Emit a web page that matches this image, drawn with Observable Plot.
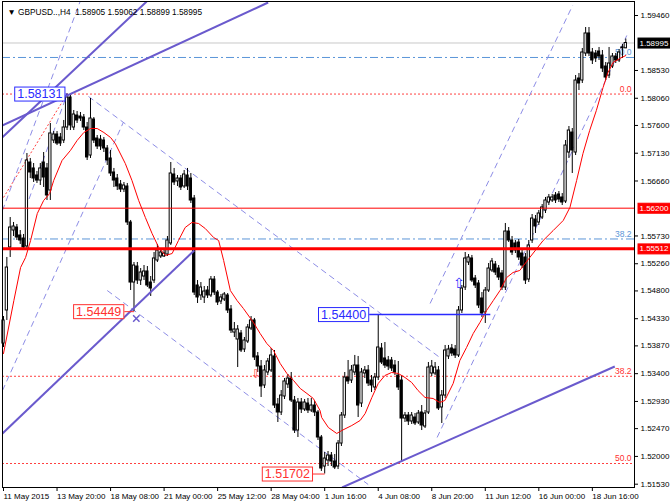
<!DOCTYPE html>
<html><head><meta charset="utf-8">
<script src="https://cdn.jsdelivr.net/npm/d3@7"></script>
<script src="https://cdn.jsdelivr.net/npm/@observablehq/plot@0.6"></script>
<style>body{margin:0;background:#fff}</style>
</head><body><div id="chart"></div>
<script>
// GBPUSD H4 candles (bar index 0..186)
const opens = [
1.53910,1.54469,1.55535,1.55822,1.55873,1.55738,1.55687,1.55552,1.56973,1.56872,
1.56753,1.56668,1.56973,1.56872,1.56499,1.57345,1.57447,1.57396,1.57345,1.57565,
1.58073,1.57565,1.57768,1.57751,1.57734,1.57565,1.57091,1.57700,1.57379,1.57362,
1.57345,1.57210,1.57041,1.56804,1.56702,1.56601,1.56516,1.56567,1.55958,1.54942,
1.55213,1.54976,1.55044,1.55129,1.54942,1.54976,1.55315,1.55383,1.55383,1.55416,
1.55603,1.56770,1.56652,1.56702,1.56567,1.56753,1.56702,1.56364,1.54892,1.54723,
1.54689,1.54807,1.54723,1.54993,1.54773,1.54621,1.54655,1.54723,1.54486,1.54096,
1.53978,1.54080,1.53809,1.53944,1.54164,1.54300,1.53691,1.53521,1.53200,1.53420,
1.53454,1.53691,1.52878,1.52743,1.53014,1.53217,1.53318,1.52946,1.52438,1.52912,
1.52794,1.52895,1.52777,1.52861,1.52743,1.52320,1.51829,1.51931,1.52015,1.51914,
1.51829,1.52218,1.52692,1.53335,1.53284,1.53420,1.53538,1.52895,1.53403,1.53454,
1.53284,1.53166,1.53335,1.53826,1.53657,1.53623,1.53623,1.53538,1.53369,1.53284,
1.52641,1.52692,1.52591,1.52658,1.52574,1.52743,1.52506,1.52743,1.53403,1.53403,
1.53454,1.52828,1.53030,1.53691,1.53826,1.53809,1.53708,1.54469,1.54858,1.55281,
1.55349,1.55010,1.54926,1.54672,1.54435,1.54807,1.55146,1.55247,1.55179,1.55095,
1.54858,1.55805,1.55653,1.55603,1.55619,1.55433,1.55366,1.54993,1.55653,1.56008,
1.55958,1.56042,1.56161,1.56296,1.56330,1.56415,1.56432,1.56381,1.56313,1.57142,
1.57480,1.57142,1.58394,1.58360,1.58817,1.59156,1.58834,1.58817,1.58851,1.58783,
1.58597,1.58445,1.58597,1.58766,1.58699,1.58920,1.58905];
const highs = [
1.54367,1.55366,1.56042,1.55958,1.55924,1.55822,1.55755,1.57125,1.57041,1.56956,
1.56821,1.56956,1.57142,1.56956,1.57633,1.57497,1.57497,1.57464,1.57684,1.58131,
1.58107,1.57853,1.57836,1.57819,1.57785,1.57650,1.58056,1.57734,1.57430,1.57430,
1.57396,1.57260,1.57176,1.56872,1.56770,1.56668,1.56635,1.56618,1.55992,1.55281,
1.55281,1.55179,1.55230,1.55213,1.55044,1.55450,1.55586,1.55518,1.55518,1.55721,
1.56973,1.56872,1.56753,1.56753,1.56838,1.56872,1.56787,1.56415,1.54976,1.54942,
1.54875,1.54875,1.55044,1.55044,1.54807,1.54740,1.54773,1.54756,1.54553,1.54266,
1.54214,1.54130,1.54012,1.54232,1.54367,1.54334,1.53758,1.53623,1.53538,1.53657,
1.53826,1.53792,1.52980,1.53115,1.53318,1.53386,1.53420,1.53014,1.52980,1.52980,
1.52963,1.52980,1.52980,1.52929,1.52777,1.52354,1.52066,1.52083,1.52066,1.52032,
1.52269,1.52743,1.53420,1.53623,1.53538,1.53708,1.53691,1.53488,1.53521,1.53538,
1.53369,1.53403,1.54400,1.53910,1.53927,1.53691,1.53674,1.53623,1.53606,1.53369,
1.52743,1.52743,1.52743,1.52726,1.52777,1.52861,1.52777,1.53589,1.53623,1.53589,
1.53521,1.53115,1.53877,1.53877,1.53894,1.53877,1.54536,1.54892,1.55450,1.55416,
1.55400,1.55061,1.54976,1.54773,1.54858,1.55264,1.55349,1.55298,1.55230,1.55146,
1.55941,1.55873,1.55721,1.55653,1.55670,1.55484,1.55433,1.55653,1.56093,1.56076,
1.56161,1.56262,1.56381,1.56432,1.56432,1.56465,1.56482,1.56448,1.57345,1.57582,
1.57548,1.58445,1.58479,1.58902,1.59257,1.59257,1.58902,1.58868,1.58919,1.58868,
1.58665,1.58919,1.58817,1.58817,1.58885,1.58970,1.59062];
const lows = [
1.53843,1.54300,1.55366,1.55721,1.55653,1.55586,1.55518,1.55518,1.56702,1.56635,
1.56618,1.56584,1.56550,1.56330,1.56330,1.57294,1.57260,1.57244,1.57294,1.57514,
1.57514,1.57514,1.57633,1.57667,1.57514,1.57007,1.57041,1.57294,1.57193,1.57176,
1.57142,1.56922,1.56736,1.56550,1.56499,1.56465,1.56465,1.55907,1.54807,1.54449,
1.54909,1.54892,1.54976,1.54858,1.54706,1.54926,1.55281,1.55349,1.55366,1.55383,
1.55569,1.56584,1.56567,1.56499,1.56533,1.56499,1.56279,1.54723,1.54587,1.54638,
1.54587,1.54672,1.54689,1.54723,1.54553,1.54570,1.54621,1.54418,1.54080,1.54012,
1.53504,1.53758,1.53758,1.53910,1.54130,1.53623,1.53420,1.52997,1.53149,1.53369,
1.53420,1.52811,1.52574,1.52692,1.52963,1.53149,1.52912,1.52388,1.52320,1.52726,
1.52760,1.52726,1.52743,1.52675,1.52269,1.51745,1.51702,1.51829,1.51829,1.51778,
1.51778,1.52168,1.52641,1.53217,1.53234,1.53369,1.52658,1.52828,1.53318,1.53183,
1.53081,1.53115,1.53284,1.53555,1.53488,1.53454,1.53437,1.53369,1.53115,1.51897,
1.52574,1.52523,1.52540,1.52523,1.52540,1.52438,1.52472,1.52709,1.53352,1.53369,
1.52777,1.52557,1.52980,1.53640,1.53691,1.53657,1.53674,1.54418,1.54807,1.55230,
1.54942,1.54841,1.54503,1.54350,1.54249,1.54773,1.55112,1.55061,1.54976,1.54807,
1.54807,1.55619,1.55400,1.55433,1.55315,1.55179,1.54909,1.54942,1.55603,1.55772,
1.55907,1.56008,1.56110,1.56245,1.56296,1.56279,1.56296,1.56245,1.56279,1.57041,
1.56787,1.57091,1.58191,1.58310,1.58766,1.58766,1.58631,1.58665,1.58699,1.58496,
1.58360,1.58394,1.58563,1.58648,1.58665,1.58733,1.58899];
const closes = [
1.54300,1.55196,1.55873,1.55890,1.55704,1.55653,1.55535,1.57007,1.56804,1.56702,
1.56668,1.56872,1.56719,1.56415,1.57464,1.57447,1.57294,1.57294,1.57565,1.58073,
1.57599,1.57785,1.57684,1.57717,1.57565,1.57058,1.57717,1.57345,1.57244,1.57244,
1.57210,1.57007,1.56787,1.56668,1.56567,1.56516,1.56584,1.55958,1.54942,1.55230,
1.54976,1.55112,1.55129,1.54892,1.54841,1.55349,1.55484,1.55450,1.55433,1.55653,
1.56787,1.56635,1.56702,1.56550,1.56770,1.56567,1.56330,1.54773,1.54689,1.54858,
1.54790,1.54723,1.54993,1.54773,1.54604,1.54689,1.54740,1.54469,1.54130,1.54147,
1.54147,1.53792,1.53961,1.54181,1.54300,1.53674,1.53521,1.53183,1.53454,1.53606,
1.53708,1.52861,1.52743,1.53030,1.53268,1.53318,1.52946,1.52438,1.52912,1.52794,
1.52912,1.52777,1.52861,1.52743,1.52320,1.51795,1.51964,1.52015,1.51914,1.51812,
1.52218,1.52692,1.53335,1.53268,1.53454,1.53538,1.52861,1.53420,1.53454,1.53234,
1.53200,1.53335,1.53843,1.53589,1.53538,1.53521,1.53488,1.53420,1.53166,1.52641,
1.52692,1.52591,1.52692,1.52557,1.52726,1.52523,1.52726,1.53504,1.53521,1.53504,
1.52811,1.53030,1.53792,1.53809,1.53741,1.53708,1.54469,1.54841,1.55349,1.55366,
1.54976,1.54892,1.54553,1.54418,1.54807,1.55179,1.55298,1.55112,1.55027,1.54858,
1.55805,1.55653,1.55450,1.55484,1.55366,1.55230,1.54976,1.55569,1.56025,1.55890,
1.56110,1.56212,1.56330,1.56381,1.56381,1.56330,1.56347,1.56296,1.57260,1.57514,
1.57176,1.58360,1.58310,1.58834,1.59156,1.58817,1.58699,1.58733,1.58766,1.58563,
1.58411,1.58648,1.58766,1.58699,1.58834,1.58905,1.58995];

// bottom time axis
const xTickBars = [0,16,32,48,64,80,96,112,128,144,160,176];
const xTickLabels = ["11 May 2015","13 May 20:00","18 May 08:00","21 May 00:00","25 May 12:00","28 May 04:00","1 Jun 16:00","4 Jun 08:00","8 Jun 20:00","11 Jun 12:00","16 Jun 00:00","18 Jun 16:00"];
// right price axis
const yTicks = [1.59460,1.58530,1.58060,1.57600,1.57130,1.56660,1.55730,1.55260,1.54800,1.54330,1.53870,1.53400,1.52930,1.52470,1.52000,1.51530];

// moving average (red line)
const maBars = [0,3.1,5.1,6.6,8.1,10.1,12,13.8,15,17.5,20,22,24,26,28,30,32,33.4,36.4,38.4,40.4,42.4,44.4,46.4,48.4,50.4,52.3,54.3,56.3,58.3,60.3,62.8,64.3,65.8,67.8,69.8,71.7,74.7,76.7,78.7,80.7,82.7,84.7,86.7,88.7,90.7,92.6,94.6,95.1,97.1,99.6,101.1,104.1,106.6,108.1,110.1,112,114,116,118,120,122,123.9,126,128.4,130.4,131.9,134.4,136.4,138.4,140.4,142.4,144.4,146.4,148.4,150.4,152.3,154.3,157.3,161.3,164.3,167.3,169.3,171.3,173.2,175.2,177.2,179.2,180.7,182.2,184.2,186];
const maValues = [1.53741,1.54638,1.55196,1.55366,1.55653,1.56110,1.56330,1.56448,1.56668,1.57007,1.57176,1.57345,1.57480,1.57548,1.57548,1.57480,1.57396,1.57294,1.56956,1.56668,1.56330,1.56042,1.55772,1.55535,1.55400,1.55433,1.55653,1.55873,1.55958,1.55941,1.55856,1.55704,1.55653,1.55315,1.54807,1.54638,1.54503,1.54266,1.54080,1.53910,1.53792,1.53572,1.53403,1.53284,1.53149,1.53064,1.52980,1.52777,1.52658,1.52489,1.52388,1.52438,1.52523,1.52608,1.52726,1.52997,1.53234,1.53369,1.53420,1.53403,1.53335,1.53251,1.53115,1.52997,1.52980,1.52912,1.52946,1.53234,1.53623,1.53843,1.54080,1.54266,1.54469,1.54638,1.54807,1.55027,1.55112,1.55146,1.55366,1.55653,1.55822,1.55992,1.56212,1.56668,1.57125,1.57514,1.57853,1.58242,1.58496,1.58665,1.58733,1.58783];

// drawn objects: [bar1, price1, bar2, price2]
const solidTrend = [[-0.4,1.57396,42.8,1.59697],[-0.4,1.57599,79.1,1.59680],[-0.3,1.52388,57.0,1.55484],[101.2,1.51474,182.7,1.53521]];
const dashedTrend = [[25.4,1.58090,130.4,1.53674],[31.0,1.54807,109.0,1.51525],[127.5,1.54587,170.1,1.59629],[129.6,1.52320,186.3,1.59122],[-0.3,1.53115,35.8,1.57650],[-0.3,1.56161,22.9,1.59697],[6.6,1.56195,19.1,1.58140]];
const fibDiagonal = [[0,1.56381,19,1.58131]];
const fibRedLevels = [1.58131,1.53356,1.51880];
const fibRedLabels = ["0.0","38.2","50.0"];
const fibBlueLevels = [1.58750,1.55679];
const fibBlueLabels = ["50.0","38.2"];
const bidPrice = 1.58995;
const hLineThin = 1.56200;
const hLineThick = 1.55512;
const labelTexts = ["1.58131","1.54449","1.54400","1.51702"];
const labelPrices = [1.58131,1.54449,1.54400,1.51702];
const labelRightBars = [18.5,36.1,109.3,92.5];
const labelEndBars = [19,39,145.5,96];
const labelColors = ["#2a2aff","#ff3030","#2a2aff","#ff3030"];
const buyArrow = [136.1,1.54926];
const sellArrow = [75.5,1.53386];
const crossMark = [39.7,1.54334];
const title = "▼ GBPUSD..,H4  1.58905 1.59062 1.58899 1.58995";

const candles = opens.map((o,i)=>({i, open:o, high:highs[i], low:lows[i], close:closes[i]}));
const maPts = maBars.map((b,k)=>({b, v:maValues[k]}));
const labels = labelTexts.map((t,k)=>({t, p:labelPrices[k], r:labelRightBars[k], e:labelEndBars[k], c:labelColors[k]}));
const seg = () => ({x1:d=>d[0], y1:d=>d[1], x2:d=>d[2], y2:d=>d[3]});

const chart = Plot.plot({
  width: 670, height: 502,
  marginTop: 1, marginBottom: 15, marginLeft: 2, marginRight: 36,
  style: {fontFamily: "'Liberation Sans', Arial, sans-serif", fontSize: "8px", background: "#fff", color: "#000"},
  x: {domain: [-0.3, 188.6]},
  y: {domain: [1.51474, 1.59697]},
  marks: [
    Plot.ruleY([bidPrice], {stroke: "#c8c8c8"}),
    Plot.ruleY(fibRedLevels, {stroke: "#ff4040", strokeDasharray: "2,2"}),
    Plot.ruleY(fibBlueLevels, {stroke: "#5b96d8", strokeDasharray: "8,3,2,3"}),
    Plot.text(fibRedLevels, {y: d=>d, text: (d,i)=>fibRedLabels[i], frameAnchor: "right", dx: -3, dy: -5, textAnchor: "end", fill: "#ff3030", fontSize: 8.5}),
    Plot.text(fibBlueLevels, {y: d=>d, text: (d,i)=>fibBlueLabels[i], frameAnchor: "right", dx: -3, dy: -5, textAnchor: "end", fill: "#5b96d8", fontSize: 8.5}),
    Plot.link(fibDiagonal, {...seg(), stroke: "#ff4040", strokeDasharray: "2,2", clip: true}),
    Plot.link(dashedTrend, {...seg(), stroke: "#8d8de6", strokeDasharray: "6,4", clip: true}),
    // candles
    Plot.ruleX(candles, {x: "i", y1: "low", y2: "high", stroke: "#000", strokeWidth: 1}),
    Plot.rect(candles, {x1: d=>d.i-0.34, x2: d=>d.i+0.34, y1: "open", y2: "close", fill: d=>d.close>=d.open ? "#fff" : "#000", stroke: "#000", strokeWidth: 1}),
    Plot.line(maPts, {x: "b", y: "v", stroke: "#ff0000", strokeWidth: 1, clip: true}),
    Plot.ruleY([hLineThin], {stroke: "#ff0000", strokeWidth: 1}),
    Plot.ruleY([hLineThick], {stroke: "#ff0000", strokeWidth: 3}),
    Plot.link(solidTrend, {...seg(), stroke: "#6a5acd", strokeWidth: 2, clip: true}),
    // price label connectors
    Plot.link(labels, {x1: "r", x2: "e", y1: "p", y2: "p", stroke: d=>d.c, strokeWidth: d=>d.t==="1.54400" ? 1.6 : 1}),
    Plot.text(labels, {x: "r", y: "p", text: "t", textAnchor: "end", dx: -3, fill: d=>d.c, fontSize: 12.5, className: "lblbox"}),
    Plot.text([buyArrow], {x: d=>d[0], y: d=>d[1], text: ["⇧"], fill: "#2a2aff", fontSize: 14, fontFamily: "DejaVu Sans"}),
    Plot.text([sellArrow], {x: d=>d[0], y: d=>d[1], text: ["⇩"], fill: "#ff3030", fontSize: 12, fontFamily: "DejaVu Sans"}),
    Plot.dot([crossMark], {x: d=>d[0], y: d=>d[1], symbol: "times", r: 3, stroke: "#6a5acd", strokeWidth: 1.5}),
    Plot.frame({stroke: "#000"}),
    Plot.text([title], {frameAnchor: "top-left", dx: 5, dy: 8, textAnchor: "start", fill: "#000", fontSize: 8.3}),
    Plot.axisY(yTicks, {anchor: "right", tickSize: 3, tickPadding: 3, tickFormat: d3.format(".5f"), fontSize: 8}),
    Plot.axisX(xTickBars, {anchor: "bottom", tickSize: 4, tickPadding: 2, tickFormat: d=>xTickLabels[xTickBars.indexOf(d)], textAnchor: "start", dx: 0, fontSize: 8}),
    Plot.text([bidPrice], {y: d=>d, text: d=>d3.format(".5f")(d), frameAnchor: "right", dx: 5, textAnchor: "start", fill: "#fff", fontSize: 8, className: "hlblack"}),
    Plot.text([hLineThin, hLineThick], {y: d=>d, text: d=>d3.format(".5f")(d), frameAnchor: "right", dx: 5, textAnchor: "start", fill: "#fff", fontSize: 8, className: "hlred"})
  ]
});
document.getElementById("chart").append(chart);

function addBoxes(cls, fillFn, strokeFn, px, py) {
  chart.querySelectorAll(`g.${cls} text`).forEach(t => {
    const b = t.getBBox();
    const r = document.createElementNS("http://www.w3.org/2000/svg", "rect");
    r.setAttribute("x", b.x - px); r.setAttribute("y", b.y - py);
    r.setAttribute("width", b.width + 2*px); r.setAttribute("height", b.height + 2*py);
    r.setAttribute("fill", fillFn(t)); r.setAttribute("stroke", strokeFn(t));
    const tr = t.getAttribute("transform"); if (tr) r.setAttribute("transform", tr);
    t.parentNode.insertBefore(r, t);
  });
}
addBoxes("lblbox", ()=>"#fff", t=>t.getAttribute("fill"), 2.5, 0);
addBoxes("hlblack", ()=>"#000", ()=>"#000", 1.5, 0.5);
addBoxes("hlred", ()=>"#ff0000", ()=>"#ff0000", 1.5, 0.5);
</script>
</body></html>
